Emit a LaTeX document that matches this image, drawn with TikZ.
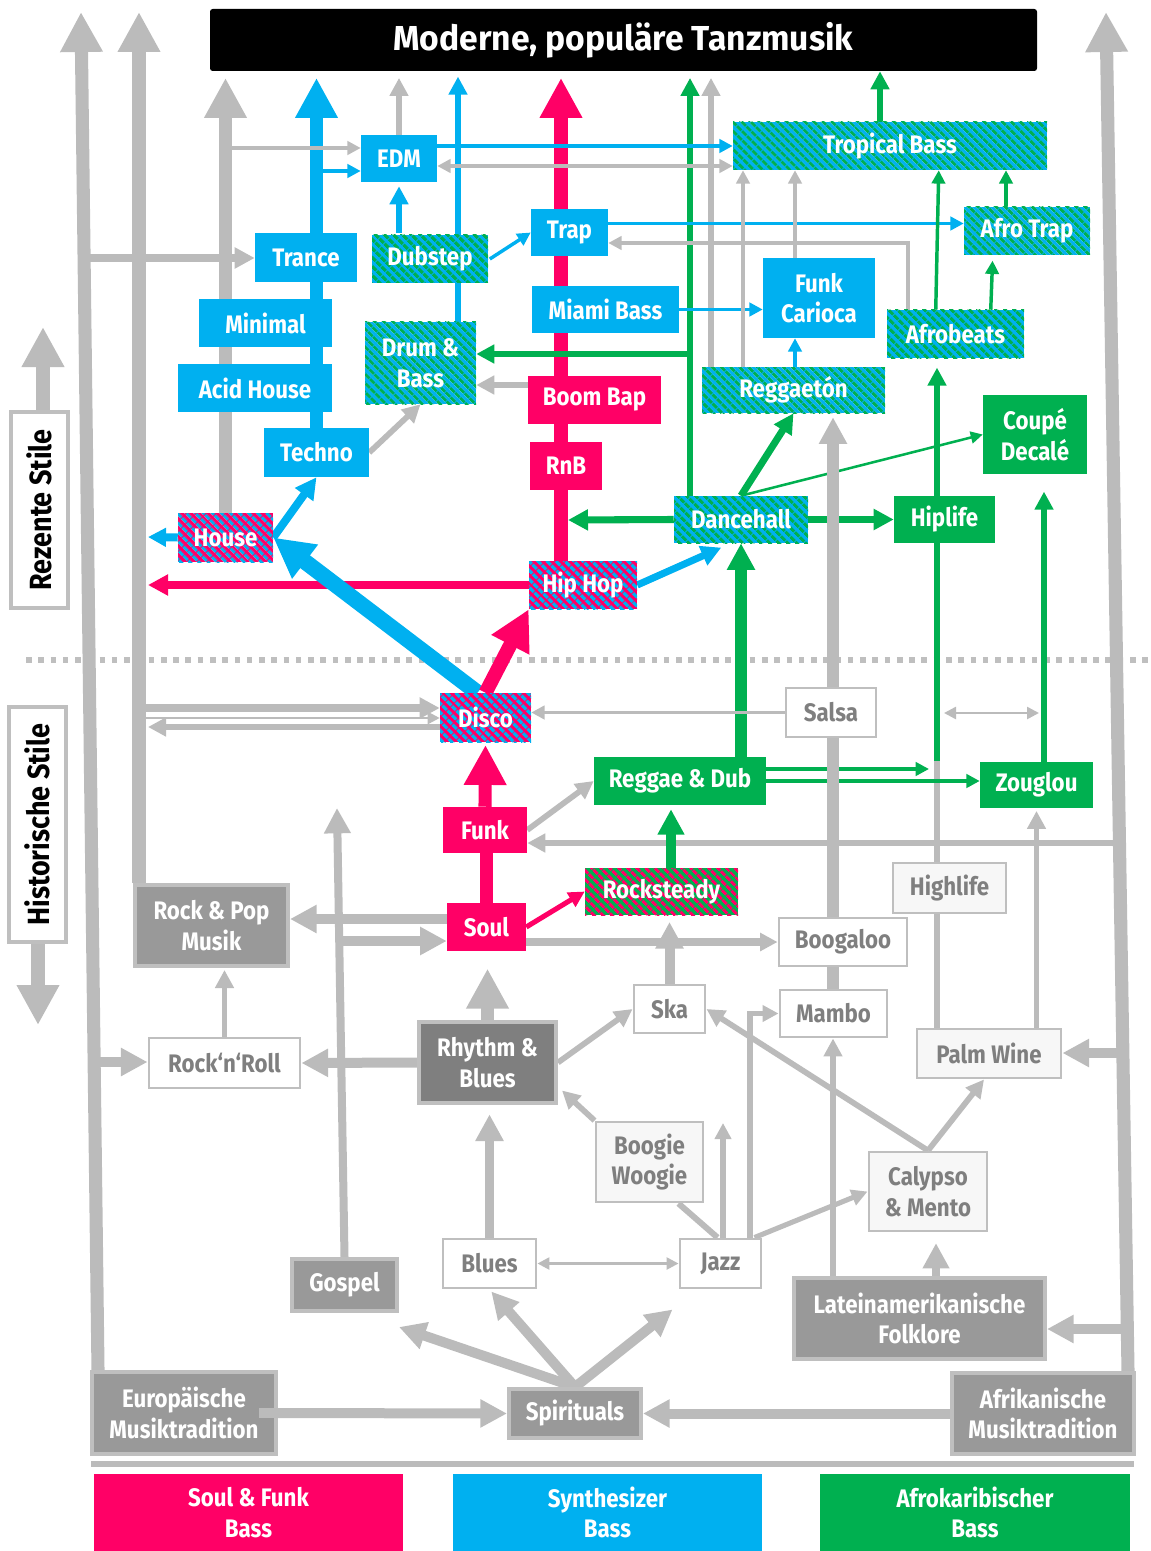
\documentclass[tikz,border=0pt]{standalone}
\usepackage{fontspec}
\setmainfont{Fira Sans}[FakeStretch=0.88]
\newfontfamily\titlefont{Fira Sans}[FakeStretch=0.97]
\usetikzlibrary{arrows.meta,calc,patterns.meta}
\definecolor{soulpink}{HTML}{FF0066}
\definecolor{synblue}{HTML}{00B0F0}
\definecolor{afrogreen}{HTML}{00B050}
\definecolor{lgray}{HTML}{BBBBBB}
\definecolor{rootgray}{HTML}{999999}
\definecolor{rnbgray}{HTML}{7F7F7F}
\definecolor{edgegray}{HTML}{BFBFBF}
\definecolor{txtgray}{HTML}{7F7F7F}
\definecolor{pale}{HTML}{F7F7F7}
\pgfdeclarelayer{bg}
\pgfsetlayers{bg,main}
\tikzset{
  corners/.style args={#1,#2,#3,#4}{minimum width={(#3-#1)*0.75pt}, minimum height={(#4-#2)*0.75pt},
    at={({(#1+#3)/2},{(#2+#4)/2})}},
  genre/.style={inner sep=0pt, align=center, text=white, font=\bfseries\fontsize{19}{23}\selectfont},
  syn/.style={genre, fill=synblue},
  afro/.style={genre, fill=afrogreen},
  soul/.style={genre, fill=soulpink},
  stripes/.style 2 args={genre, preaction={fill=#1},
    pattern={Lines[angle=-45,distance=5.4pt,line width=2.7pt]}, pattern color=#2},
  synafro/.style={stripes={synblue}{afrogreen}},
  soulsyn/.style={stripes={soulpink}{synblue}},
  soulafro/.style={stripes={afrogreen}{soulpink}},
  root/.style={genre, fill=rootgray, draw=edgegray, line width=3pt},
  hist/.style={genre, fill=white, draw=edgegray, line width=2.2pt, text=txtgray},
  histl/.style={hist, fill=pale},
  sidebox/.style={inner sep=0pt, fill=white, draw=edgegray, line width=2.5pt},
  titlebox/.style={genre, fill=black, rounded corners=2pt, font=\titlefont\bfseries\fontsize{26}{30}\selectfont},
  arw/.style 2 args={line width=#1, -{Triangle[width=#2,length=#2]}},
  w1/.style={arw={1.9pt}{9pt}},
  w1both/.style={line width=1.9pt, {Triangle[width=9pt,length=9pt]}-{Triangle[width=9pt,length=9pt]}},
  w2/.style={arw={2.6pt}{10pt}},
  w3/.style={arw={4.3pt}{13.5pt}},
  w4/.style={arw={5.3pt}{15pt}},
  w5/.style={arw={7.5pt}{20pt}},
  w6/.style={arw={9.8pt}{30pt}},
}

\begin{document}
\begin{tikzpicture}[x=0.75pt,y=-0.75pt]
  \useasboundingbox (0,0) rectangle (1150,1551);

  %%%%% genres %%%%%
  \node[titlebox, corners={210,9,1037,71}] (title) {Moderne, populäre Tanzmusik};

  \node[syn, corners={361,135,437,182}] (edm) {EDM};
  \node[syn, corners={255,233,357,282}] (trance) {Trance};
  \node[syn, corners={199,299,332,347}] (minimal) {Minimal};
  \node[syn, corners={178,364,332,412}] (acid) {Acid House};
  \node[syn, corners={264,428,369,477}] (techno) {Techno};
  \node[syn, corners={531,209,608,256}] (trap) {Trap};
  \node[syn, corners={532,286,679,333}] (miami) {Miami Bass};
  \node[syn, corners={763,258,875,338}] (funkcar) {Funk\\Carioca};

  \node[synafro, corners={372,235,488,283}] (dubstep) {Dubstep};
  \node[synafro, corners={365,322,476,404}] (dnb) {Drum \&\\Bass};
  \node[synafro, corners={733,122,1047,170}] (tropical) {Tropical Bass};
  \node[synafro, corners={964,207,1090,255}] (afrotrap) {Afro Trap};
  \node[synafro, corners={702,367,885,413}] (reggaeton) {Reggaetón};
  \node[synafro, corners={674,496,808,543}] (dancehall) {Dancehall};
  \node[synafro, corners={887,310,1024,358}] (afrobeats) {Afrobeats};

  \node[afro, corners={983,395,1087,474}] (coupe) {Coupé\\Decalé};
  \node[afro, corners={894,496,995,543}] (hiplife) {Hiplife};
  \node[afro, corners={594,757,766,805}] (reggae) {Reggae \& Dub};
  \node[afro, corners={980,762,1093,808}] (zouglou) {Zouglou};

  \node[soul, corners={528,376,661,424}] (boombap) {Boom Bap};
  \node[soul, corners={530,442,602,490}] (rnb) {RnB};
  \node[soul, corners={443,807,527,853}] (funk) {Funk};
  \node[soul, corners={447,903,526,951}] (soulnode) {Soul};

  \node[soulsyn, corners={178,513,273,562}] (house) {House};
  \node[soulsyn, corners={529,561,637,609}] (hiphop) {Hip Hop};
  \node[soulsyn, corners={440,693,531,742}] (disco) {Disco};
  \node[soulafro, corners={585,868,738,915}] (rocksteady) {Rocksteady};

  \node[root, corners={135,885,288,966}] (rockpop) {Rock \& Pop\\Musik};
  \node[root, corners={292,1259,397,1311}] (gospel) {Gospel};
  \node[root, corners={92,1372,276,1454}] (europe) {Europäische\\Musiktradition};
  \node[root, corners={509,1389,641,1438}] (spirituals) {Spirituals};
  \node[root, corners={952,1373,1134,1454}] (africa) {Afrikanische\\Musiktradition};
  \node[root, corners={794,1278,1045,1359}] (latin) {Lateinamerikanische\\Folklore};
  \node[root, fill=rnbgray, corners={419,1022,556,1103}] (rnbl) {Rhythm \&\\Blues};

  \node[hist, corners={786,688,876,737}] (salsa) {Salsa};
  \node[hist, corners={149,1038,300,1088}] (rocknroll) {Rock‘n‘Roll};
  \node[hist, corners={779,918,907,966}] (boogaloo) {Boogaloo};
  \node[hist, corners={634,985,705,1033}] (ska) {Ska};
  \node[hist, corners={780,990,887,1037}] (mambo) {Mambo};
  \node[hist, corners={443,1239,536,1288}] (blues) {Blues};
  \node[hist, corners={680,1239,761,1288}] (jazz) {Jazz};
  \node[histl, corners={893,863,1006,913}] (highlife) {Highlife};
  \node[histl, corners={917,1029,1061,1078}] (palmwine) {Palm Wine};
  \node[histl, corners={596,1122,703,1202}] (boogie) {Boogie\\Woogie};
  \node[histl, corners={869,1152,987,1231}] (calypso) {Calypso\\\& Mento};

  %%%%% side labels and legend %%%%%
  \node[sidebox, corners={11,412,68,608}] (rezente) {};
  \node[rotate=90, font=\bfseries\fontsize{23}{26}\selectfont] (rezentetxt) at (rezente) {Rezente Stile};
  \node[sidebox, corners={9,707,66,942}] (historische) {};
  \node[rotate=90, font=\bfseries\fontsize{23}{26}\selectfont] (historischetxt) at (historische) {Historische Stile};

  \node[soul, corners={94,1474,403,1551}] (legsoul) {Soul \& Funk\\Bass};
  \node[syn, corners={453,1474,762,1551}] (legsyn) {Synthesizer\\Bass};
  \node[afro, corners={820,1474,1130,1551}] (legafro) {Afrokaribischer\\Bass};

  \draw[lgray, line width=7.5pt] ($(europe.east)+(-19,0)$) -- (europe.east);

  \begin{pgfonlayer}{bg}
    % separators
    \draw[edgegray, line width=4.5pt, dash pattern=on 4.2pt off 5pt] (26,660) -- (1150,660);
    \draw[lgray, line width=4.3pt] (91,1464) -- (1134,1464);

    % long roots
    \coordinate (topA) at (81,12);
    \coordinate (topB) at (139,12);
    \coordinate (topC) at (1106,12);
    \draw[lgray, w6] ($(europe.north west)+(8,0)$) -- (topA);
    \draw[lgray, w6] ($(rockpop.north west)+(6,0)$) -- (topB);
    \draw[lgray, w6] ($(africa.north east)+(-8,0)$) -- (topC);
    \coordinate (upx) at (43,327);
    \draw[lgray, w6] (rezente.north -| upx) -- (upx);
    \coordinate (downx) at (38,1025);
    \draw[lgray, w6] (historische.south -| downx) -- (downx);

    % into the title
    \draw[lgray, w6, shorten >=5pt] (house) -- (house |- title.south);
    \draw[synblue, w6, shorten >=5pt] (techno) -- (techno |- title.south);
    \draw[lgray, w3, shorten >=5pt] (edm) -- (edm |- title.south);
    \coordinate (dbx) at (458,0);
    \draw[synblue, w3, shorten >=4pt] (dnb.north -| dbx) -- (title.south -| dbx);
    \draw[synblue, w3, shorten >=3pt] (dubstep.north -| edm.south) -- (edm.south);
    \coordinate (px) at (561,0);
    \draw[soulpink, w6, shorten >=5pt] (hiphop.north -| px) -- (title.south -| px);
    \coordinate (gx) at (711,0);
    \draw[lgray, w3, shorten >=5pt] (reggaeton.north -| gx) -- (title.south -| gx);
    \coordinate (gr) at (690,0);
    \draw[afrogreen, w3, shorten >=5pt] (dancehall.north -| gr) -- (title.south -| gr);
    \coordinate (tb) at (880,0);
    \draw[afrogreen, w3] (tropical.north -| tb) -- (title.south -| tb);

    % EDM, Trance, Trap
    \coordinate (e1) at (222,148);
    \draw[lgray, w2] (e1) -- (e1 -| edm.west);
    \coordinate (e2) at (317,171);
    \draw[synblue, w2] (e2) -- (e2 -| edm.west);
    \coordinate (e3) at (711,166);
    \draw[lgray, w2] (e3) -- (e3 -| edm.east);
    \draw[lgray, w2] (e3) -- (e3 -| tropical.west);
    \draw[synblue, w2] (edm.east |- tropical.west) -- (tropical.west);
    \coordinate (lt) at (84,258);
    \draw[lgray, w4] (lt) -- (lt -| trance.west);
    \draw[synblue, w2] (dubstep.east) -- (trap.west);
    \coordinate (te) at ($(trap.east)+(0,-9)$);
    \draw[synblue, w2] (te) -- (te -| afrotrap.west);
    \coordinate (ab) at (908,243);
    \draw[lgray, w2] (afrobeats.north -| ab) -- (ab) -- (ab -| trap.east);
    \draw[synblue, w2] (miami.east) -- (miami.east -| funkcar.west);
    \coordinate (fc) at (795,0);
    \draw[lgray, w2] (funkcar.north -| fc) -- (tropical.south -| fc);
    \draw[synblue, w2] (reggaeton.north -| fc) -- (funkcar.south -| fc);
    \coordinate (rg) at (743,0);
    \draw[lgray, w2] (reggaeton.north -| rg) -- (tropical.south -| rg);
    \draw[afrogreen, w2] ($(afrobeats.north west)+(49,0)$) -- ($(tropical.south west)+(206,0)$);
    \draw[afrogreen, w2, shorten >=4pt] ($(afrobeats.north west)+(104,0)$) -- ($(afrotrap.south west)+(29,0)$);
    \coordinate (atx) at (1006,0);
    \draw[afrogreen, w2] (afrotrap.north -| atx) -- (tropical.south -| atx);

    % Drum & Bass
    \coordinate (gd) at (690,354);
    \draw[afrogreen, w3] (gd) -- (gd -| dnb.east);
    \coordinate (bbw) at ($(boombap.west)+(0,-15)$);
    \draw[lgray, w3] (bbw) -- (bbw -| dnb.east);
    \draw[lgray, w3] (techno.east) -- (dnb.south);

    % Hiplife column
    \coordinate (hx) at (937,0);
    \coordinate (hj) at (937,761);
    \draw[afrogreen, w3, shorten >=7pt] (hiplife.north -| hx) -- (afrobeats.south -| hx);
    \draw[afrogreen, line width=4.3pt] (hiplife.south -| hx) -- (hj);
    \draw[lgray, line width=4.3pt] (highlife.north -| hx) -- (hj);
    \draw[lgray, line width=4.3pt] (palmwine.north -| hx) -- (highlife.south -| hx);
    \coordinate (rj) at (929,769);
    \draw[afrogreen, w2] (reggae.east |- rj) -- (rj);
    \draw[afrogreen, w2] (reggae.east) -- (reggae.east -| zouglou.west);
    \coordinate (zx) at (1044,0);
    \draw[afrogreen, w3, shorten >=13pt] (zouglou.north -| zx) -- (coupe.south -| zx);
    \coordinate (za) at (944,713);
    \coordinate (zb) at (1039,713);
    \draw[lgray, w1both] (za) -- (zb);

    % Dancehall
    \draw[synblue, w4, shorten >=8pt] (hiphop.east) -- ($(dancehall.south)+(-10,0)$);
    \draw[afrogreen, arw={9pt}{20pt}] (dancehall.south |- reggae.north) -- (dancehall.south);
    \draw[afrogreen, w4] (dancehall.east) -- (hiplife.west);
    \coordinate (dl) at (568,520);
    \draw[afrogreen, w4] (dancehall.west) -- (dl);
    \draw[afrogreen, w4] (dancehall.north) -- (reggaeton.south);
    \draw[afrogreen, w1] (dancehall.north) -- (coupe.west);

    % Latin column
    \coordinate (lx) at (833,0);
    \draw[lgray, w3] (latin.north -| lx) -- (mambo.south -| lx);
    \draw[lgray, line width=9pt] (mambo.north -| lx) -- (boogaloo.south -| lx);
    \draw[lgray, arw={9pt}{20pt}, shorten >=3pt] (boogaloo.north -| lx) -- (reggaeton.south -| lx);
    \draw[lgray, w2] (salsa.west) -- (salsa.west -| disco.east);

    % House, Hip Hop, Disco
    \coordinate (hpl) at (148,585);
    \draw[soulpink, w4] (hiphop.west) -- (hpl);
    \coordinate (hl) at (148,537);
    \draw[synblue, arw={6pt}{13.5pt}] (house.west) -- (hl);
    \draw[synblue, arw={6pt}{16pt}] (house.east) -- (techno.south);
    \draw[synblue, arw={12pt}{30pt}] ($(disco.north)+(-8,0)$) -- (house.east);
    \draw[soulpink, arw={10.5pt}{30pt}] (disco.north) -- (hiphop.south west);
    \coordinate (ld1) at (141,708);
    \draw[lgray, w4] (ld1) -- (ld1 -| disco.west);
    \coordinate (ld2) at (141,718);
    \draw[lgray, w1] (ld2) -- (ld2 -| disco.west);
    \coordinate (ld3) at (148,727);
    \draw[lgray, w3] (ld3 -| disco.west) -- (ld3);

    % Funk, Soul
    \draw[soulpink, line width=9.8pt] (soulnode.north) -- (soulnode.north |- funk.south);
    \draw[soulpink, w6, shorten >=2pt] (funk.north) -- (disco.south);
    \draw[lgray, w3] (funk.east) -- (reggae.west);
    \coordinate (rf) at (1118,843);
    \draw[lgray, w3] (rf) -- (rf -| funk.east);
    \draw[soulpink, arw={3.8pt}{12pt}] (soulnode.east) -- (rocksteady.west);
    \coordinate (rx) at (671,0);
    \draw[afrogreen, arw={7.5pt}{19pt}, shorten >=3pt] (rocksteady.north -| rx) -- (reggae.south -| rx);
    \draw[lgray, arw={6pt}{13pt}] (boogaloo.west -| soulnode.east) -- (boogaloo.west);
    \draw[lgray, arw={7.5pt}{20pt}, shorten >=5pt] (ska.north) -- (ska.north |- rocksteady.south);
    \coordinate (sw) at ($(soulnode.west)+(0,-8)$);
    \draw[lgray, w5] (sw) -- (sw -| rockpop.east);
    \coordinate (gup) at (337,808);
    \draw[lgray, arw={6pt}{19pt}] (gospel.north) -- (gup);
    \coordinate (gs) at (340,941);
    \draw[lgray, w5] (gs) -- (gs -| soulnode.west);

    % right side
    \coordinate (rp) at (1121,1053);
    \draw[lgray, w5] (rp) -- (rp -| palmwine.east);
    \coordinate (rl) at (1125,1329);
    \draw[lgray, w5] (rl) -- (rl -| latin.east);
    \draw[lgray, w3, shorten >=2pt] (zouglou.south |- palmwine.north) -- (zouglou.south);
    \draw[lgray, w3] (calypso.north) -- ($(palmwine.south)+(-5,0)$);
    \draw[lgray, w3] (calypso.north) -- (ska.east);
    \coordinate (lc) at (936,0);
    \draw[lgray, arw={6pt}{19pt}, shorten >=8pt] (latin.north -| lc) -- (calypso.south -| lc);

    % Jazz, Blues, Rhythm & Blues
    \draw[lgray, arw={3.8pt}{12pt}] ($(jazz.north east)+(-8,0)$) -- (calypso.west);
    \coordinate (jm) at (750,0);
    \draw[lgray, arw={3.8pt}{12pt}] (jazz.north -| jm) |- (mambo.west);
    \coordinate (jup) at (723,1123);
    \draw[lgray, arw={3.8pt}{12pt}] (jazz.north -| jup) -- (jup);
    \draw[lgray, line width=4.5pt] ($(jazz.north)+(-3,0)$) -- ($(boogie.south east)+(-26,0)$);
    \draw[lgray, w3] (boogie.north west) -- ($(rnbl.east)+(4,28)$);
    \draw[lgray, w3] (rnbl.east) -- (ska.west);
    \draw[lgray, w1both] (blues.east) -- (jazz.west);
    \draw[lgray, arw={7pt}{20pt}, shorten >=7pt] (blues.north) -- (blues.north |- rnbl.south);
    \draw[lgray, w6, shorten >=13pt] (rnbl.north) -- (rnbl.north |- soulnode.south);
    \draw[lgray, w5] (rnbl.west) -- (rocknroll.east);
    \coordinate (lr) at (96,1062);
    \draw[lgray, w5] (lr) -- (lr -| rocknroll.west);
    \draw[lgray, w3, shorten >=1.5pt] (rocknroll.north) -- (rocknroll.north |- rockpop.south);

    % traditions
    \draw[lgray, w5] (europe.east) -- (spirituals.west);
    \draw[lgray, w5] (africa.west) -- (spirituals.east);
    \draw[lgray, w5] (spirituals.north) -- ($(gospel.south east)+(0,14)$);
    \draw[lgray, w5, shorten >=2pt] (spirituals.north) -- (blues.south);
    \draw[lgray, w5] (spirituals.north) -- ($(jazz.south west)+(-6,20)$);
  \end{pgfonlayer}
\end{tikzpicture}
\end{document}
